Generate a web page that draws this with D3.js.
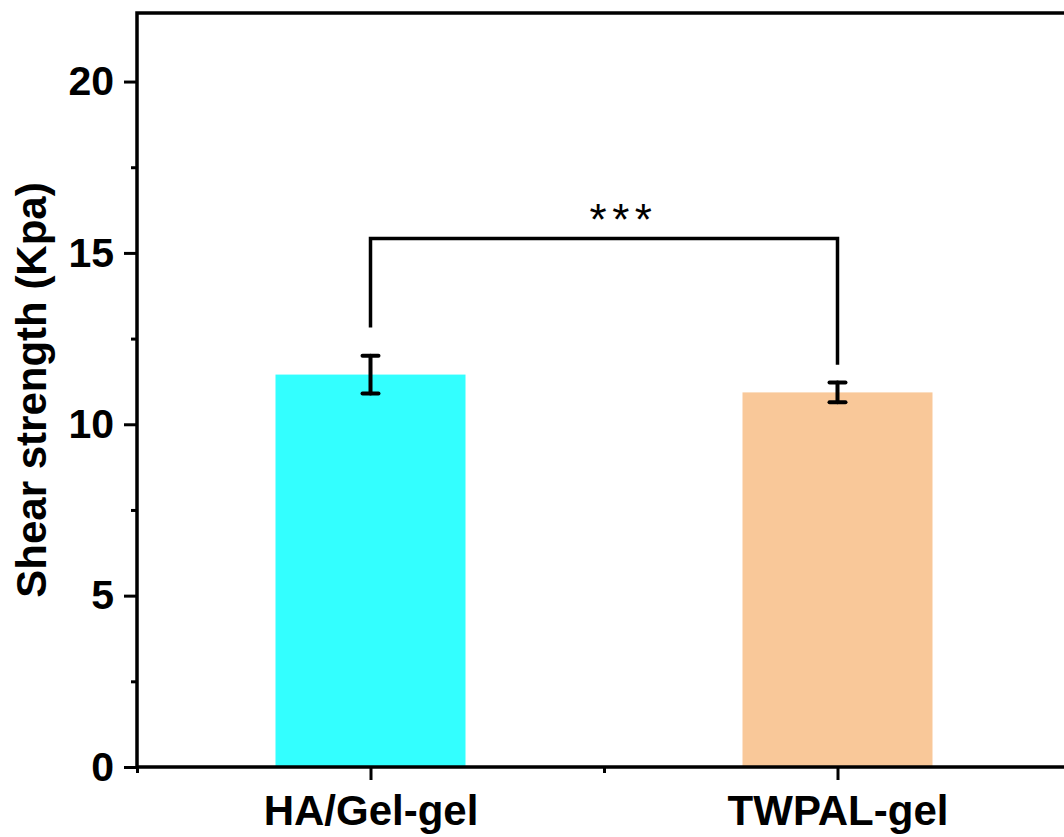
<!DOCTYPE html>
<html>
<head>
<meta charset="utf-8">
<script src="https://cdn.jsdelivr.net/npm/d3@7"></script>
<style>
  html, body { margin: 0; padding: 0; background: #fff; }
  svg { display: block; }
  text { font-family: "Liberation Sans", Arial, sans-serif; }
</style>
</head>
<body>
<svg id="chart" width="1064" height="837"></svg>
<script>
const categories = ["HA/Gel-gel", "TWPAL-gel"];
const means = [11.45, 10.93];
const errors = [0.55, 0.29];
const barColors = ["#33FFFF", "#F9C899"];
const yTicks = [0, 5, 10, 15, 20];
const yMinorTicks = [2.5, 7.5, 12.5, 17.5];
const xMinorTicks = [0.5, 1.5, 2.5];
const sigLabel = "***";
const sigLabelX = 1.536;
const bracketY = 15.42;
const bracketEnds = [12.82, 11.74];

const svg = d3.select("#chart");
const mLeft = 137, mRight = 1071, mTop = 13, mBottom = 767;

const x = d3.scaleLinear().domain([0.5, 2.5]).range([mLeft, mRight]);
const y = d3.scaleLinear().domain([0, 22]).range([mBottom, mTop]);
const barW = 190 / (x(2) - x(1));

// bars
svg.append("g").selectAll("rect").data(means).join("rect")
  .attr("x", (d, i) => x(i + 1 - barW / 2))
  .attr("width", (d, i) => x(i + 1 + barW / 2) - x(i + 1 - barW / 2))
  .attr("y", d => y(d))
  .attr("height", d => y(0) - y(d))
  .attr("fill", (d, i) => barColors[i]);

// error bars
const eb = svg.append("g").attr("stroke", "#000").attr("stroke-width", 4).attr("stroke-linecap", "round");
means.forEach((m, i) => {
  const cx = x(i + 1);
  eb.append("line").attr("x1", cx).attr("x2", cx).attr("y1", y(m - errors[i])).attr("y2", y(m + errors[i]));
  eb.append("line").attr("x1", cx - 8).attr("x2", cx + 8).attr("y1", y(m + errors[i])).attr("y2", y(m + errors[i]));
  eb.append("line").attr("x1", cx - 8).attr("x2", cx + 8).attr("y1", y(m - errors[i])).attr("y2", y(m - errors[i]));
});

// significance bracket
const bp = d3.path();
bp.moveTo(x(1), y(bracketEnds[0]));
bp.lineTo(x(1), y(bracketY));
bp.lineTo(x(2), y(bracketY));
bp.lineTo(x(2), y(bracketEnds[1]));
svg.append("path").attr("d", bp.toString()).attr("fill", "none")
  .attr("stroke", "#000").attr("stroke-width", 3.5).attr("stroke-linejoin", "miter");
svg.append("text").attr("x", x(sigLabelX) + 2.75).attr("y", 234.5)
  .attr("text-anchor", "middle").attr("font-size", 44).attr("letter-spacing", 5.5).text(sigLabel);

// y axis
const yAxis = d3.axisLeft(y).tickValues(yTicks).tickSize(13).tickPadding(10).tickFormat(d3.format("d"));
const gy = svg.append("g").attr("transform", `translate(${mLeft},0)`).call(yAxis);
gy.select(".domain").remove();
gy.selectAll(".tick line").attr("stroke-width", 3);
gy.selectAll(".tick text").attr("font-size", 41).attr("font-weight", "bold").attr("fill", "#000")
  .attr("font-family", "'Liberation Sans', Arial, sans-serif");
const gym = svg.append("g").attr("transform", `translate(${mLeft},0)`)
  .call(d3.axisLeft(y).tickValues(yMinorTicks).tickSize(6).tickFormat(""));
gym.select(".domain").remove();
gym.selectAll(".tick line").attr("stroke-width", 3);

// x axis
const xAxis = d3.axisBottom(x).tickValues([1, 2]).tickSize(13).tickPadding(15).tickFormat(d => categories[d - 1]);
const gx = svg.append("g").attr("transform", `translate(0,${mBottom})`).call(xAxis);
gx.select(".domain").remove();
gx.selectAll(".tick line").attr("stroke-width", 3);
gx.selectAll(".tick text").attr("font-size", 42).attr("font-weight", "bold").attr("fill", "#000")
  .attr("font-family", "'Liberation Sans', Arial, sans-serif");
const gxm = svg.append("g").attr("transform", `translate(0,${mBottom})`)
  .call(d3.axisBottom(x).tickValues(xMinorTicks).tickSize(6).tickFormat(""));
gxm.select(".domain").remove();
gxm.selectAll(".tick line").attr("stroke-width", 3);

// frame
svg.append("rect").attr("x", mLeft).attr("y", mTop).attr("width", mRight - mLeft).attr("height", mBottom - mTop)
  .attr("fill", "none").attr("stroke", "#000").attr("stroke-width", 3.5);

// y label
svg.append("text").attr("transform", `translate(46,${(mTop + mBottom) / 2}) rotate(-90)`)
  .attr("text-anchor", "middle").attr("font-size", 42).attr("font-weight", "bold")
  .text("Shear strength (Kpa)");
</script>
</body>
</html>
